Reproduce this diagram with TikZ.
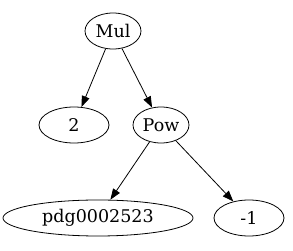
\documentclass[tikz,border=0pt]{standalone}
\usepackage{fontspec}
\setmainfont{DejaVu Serif}
\usetikzlibrary{shapes.geometric,arrows.meta}
\tikzset{
	exprbox/.style={
		draw,
		ellipse,
		line width=0.8pt,
		inner sep=0pt,
		minimum height=36pt,
		font=\fontsize{17.5}{20}\selectfont
	},
	exprEdge/.style={-{Triangle[length=11pt,width=8pt]}, line width=0.8pt}
}
\begin{document}
\begin{tikzpicture}[x=1pt,y=-1pt]

	\useasboundingbox (0,0) rectangle (293,251);

	% Top level
	\node[exprbox, minimum width=56pt] (mul) at (113,31) {Mul};

	% Arguments of Mul
	\node[exprbox, minimum width=70pt] (two) at (74,125) {2};
	\node[exprbox, minimum width=56pt] (pow) at (161,125) {Pow};

	% Arguments of Pow
	\node[exprbox, minimum width=190pt] (sym) at (98,218) {pdg0002523};
	\node[exprbox, minimum width=70pt] (neg) at (249,218) {-1};

	% Edges
	\draw[exprEdge] (mul) -- (two);
	\draw[exprEdge] (mul) -- (pow);
	\draw[exprEdge] (pow) -- (sym);
	\draw[exprEdge] (pow) -- (neg);

\end{tikzpicture}
\end{document}
